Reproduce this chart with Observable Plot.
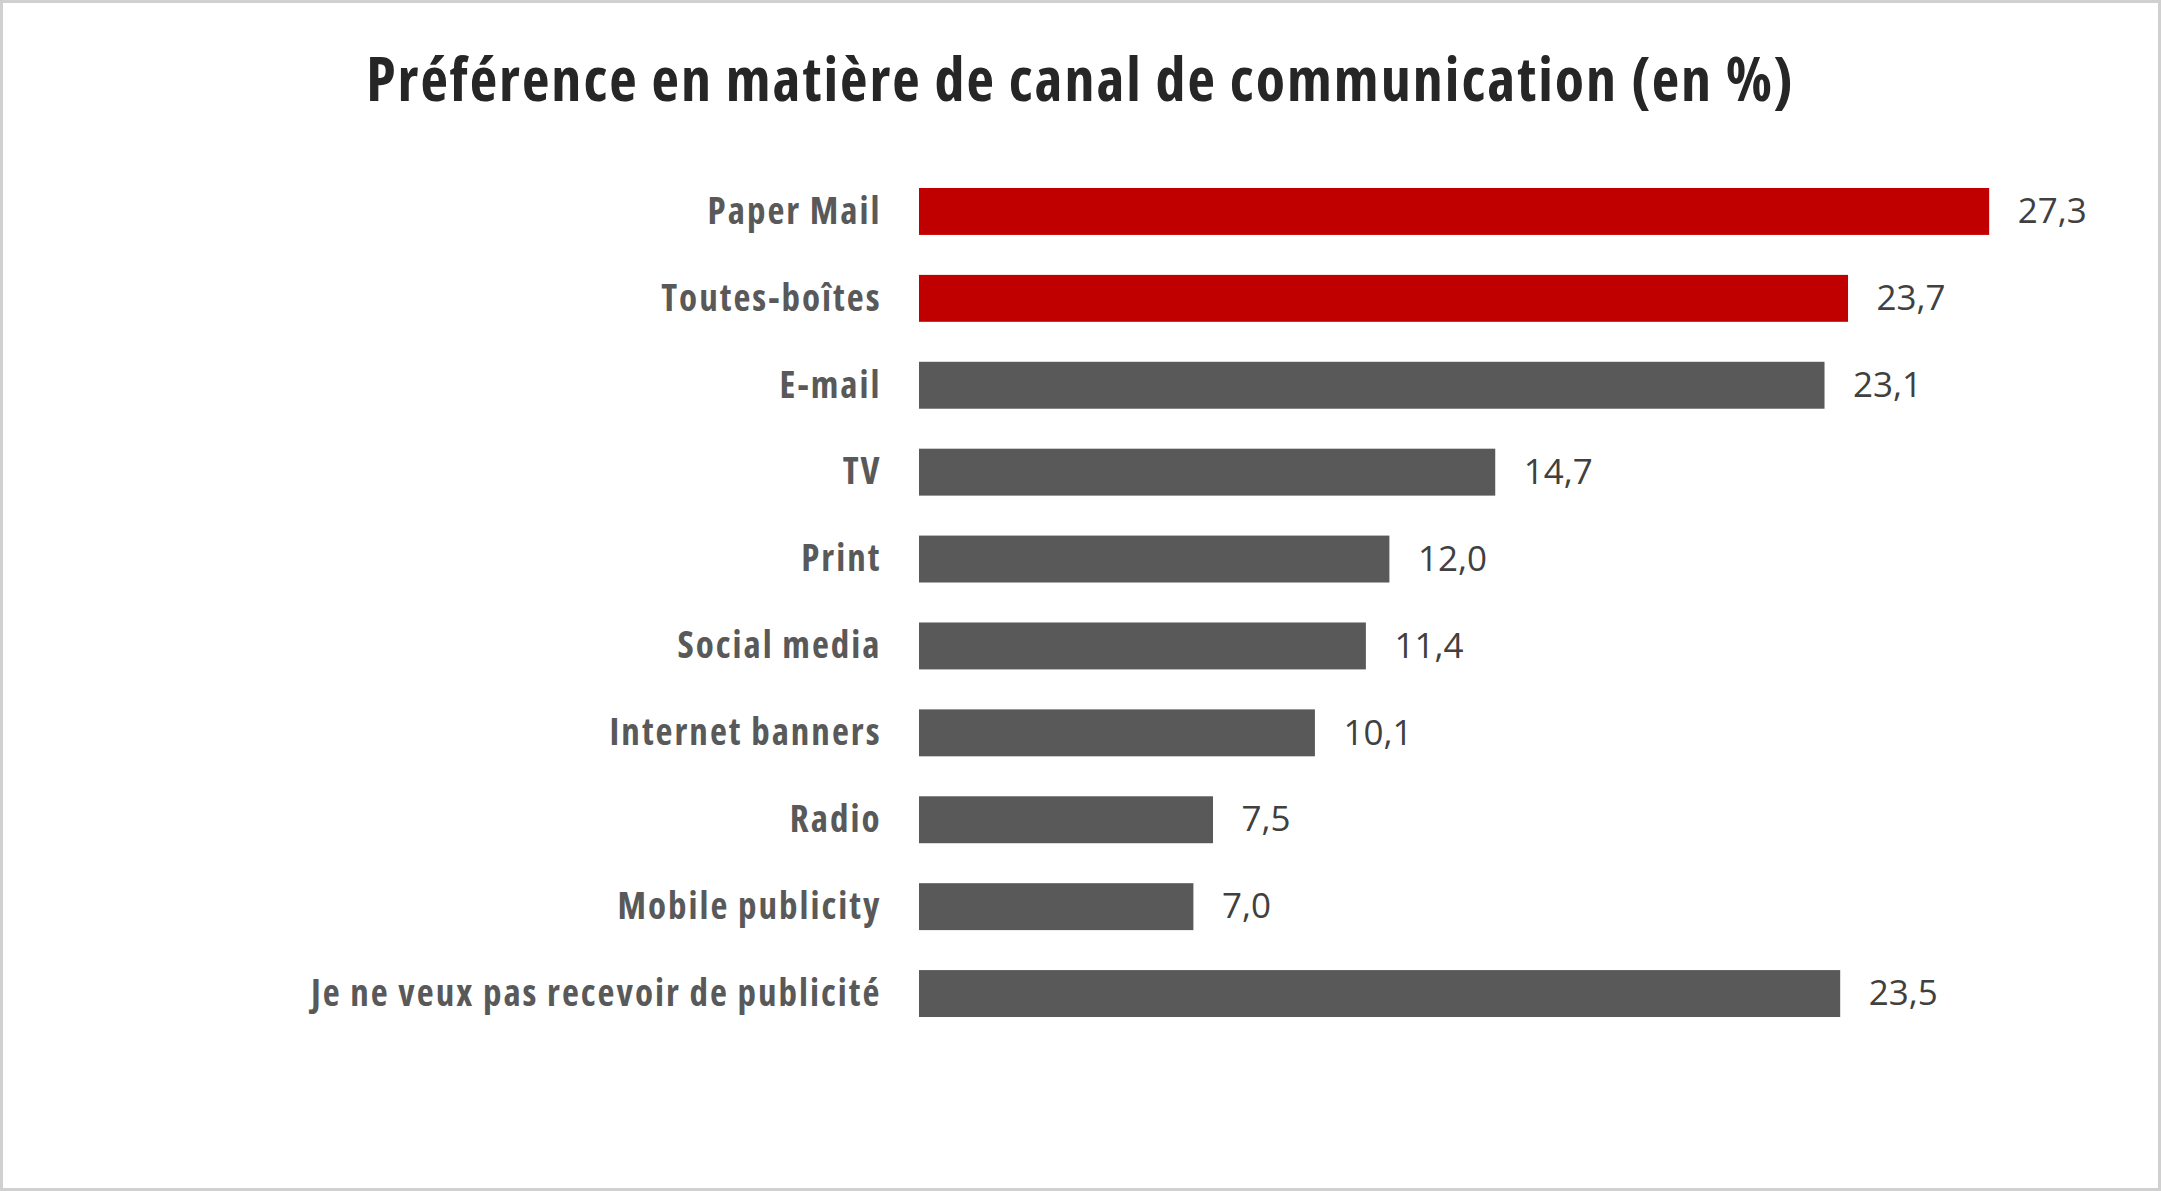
<!DOCTYPE html>
<html>
<head>
<meta charset="utf-8">
<script src="https://cdn.jsdelivr.net/npm/d3@7"></script>
<script src="https://cdn.jsdelivr.net/npm/@observablehq/plot@0.6"></script>
<style>
  html, body { margin: 0; padding: 0; background: #fff; }
  #frame {
    width: 2161px; height: 1191px; box-sizing: border-box;
    border: 3px solid #d0d0d0; background: #fff; overflow: hidden;
  }
  #title {
    height: 130px; line-height: 150px; text-align: center;
    font-family: "Open Sans", sans-serif;
    font-stretch: 75%; letter-spacing: 2px;
    font-weight: bold; font-size: 60px; color: #262626;
  }
  #chart svg { display: block; }
</style>
</head>
<body>
<div id="frame">
  <div id="title">Préférence en matière de canal de communication (en %)</div>
  <div id="chart"></div>
</div>
<script>
const categories = [
  "Paper Mail",
  "Toutes-boîtes",
  "E-mail",
  "TV",
  "Print",
  "Social media",
  "Internet banners",
  "Radio",
  "Mobile publicity",
  "Je ne veux pas recevoir de publicité"
];
const values = [27.3, 23.7, 23.1, 14.7, 12.0, 11.4, 10.1, 7.5, 7.0, 23.5];
const highlighted = ["Paper Mail", "Toutes-boîtes"];

const data = categories.map((c, i) => ({ category: c, value: values[i], hl: highlighted.includes(c) }));
const fmt = v => v.toFixed(1).replace(".", ",");

const chart = Plot.plot({
  width: 2155,
  height: 1055,
  marginLeft: 916,
  marginRight: 63,
  marginTop: 35,
  marginBottom: 151,
  style: { background: "#fff" },
  x: { domain: [0, 30], axis: null },
  y: { domain: categories, paddingInner: 0.46, paddingOuter: 0.23, round: false, label: null },
  marks: [
    Plot.barX(data, { x: "value", y: "category", fill: d => d.hl ? "#C00000" : "#595959" }),
    Plot.text(data, {
      x: "value", y: "category", text: d => fmt(d.value),
      textAnchor: "start", dx: 28, fontSize: 35, fill: "#404040",
      fontFamily: "'Open Sans', sans-serif"
    }),
    Plot.axisY({
      tickSize: 0, tickPadding: 38, fontSize: 37, fontWeight: "bold",
      fill: "#595959", label: null,
      fontFamily: "'Open Sans', sans-serif"
    })
  ]
});
chart.querySelectorAll("g[aria-label='y-axis tick label'] text").forEach(t => {
  t.style.fontStretch = "75%";
  t.style.letterSpacing = "2px";
});
document.getElementById("chart").appendChild(chart);
</script>
</body>
</html>
